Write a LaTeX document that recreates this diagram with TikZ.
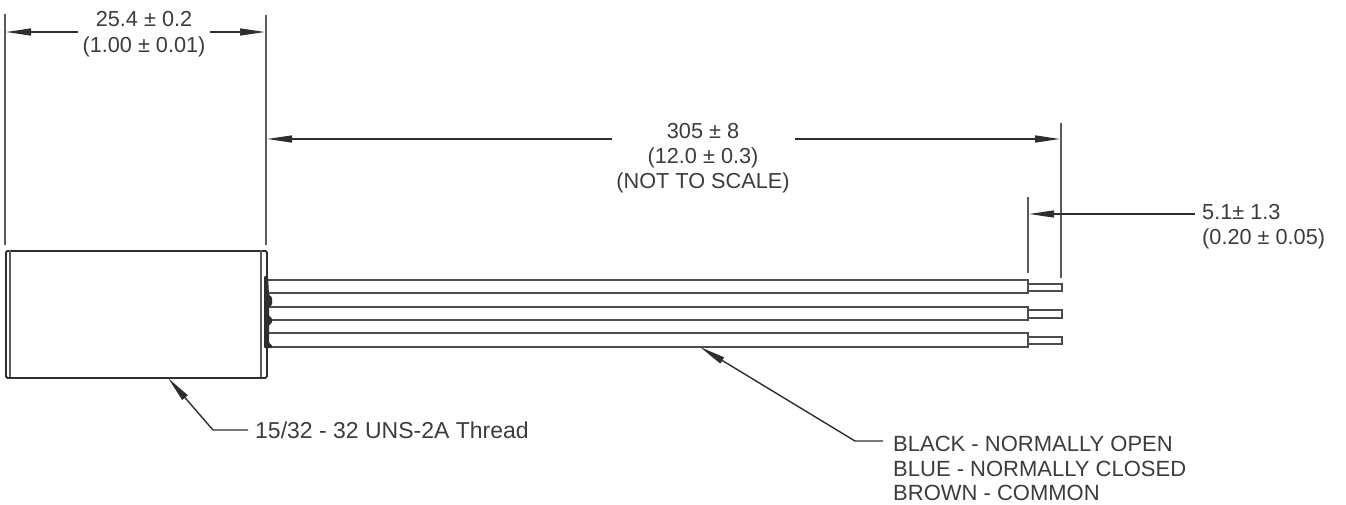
\documentclass[tikz,border=0pt]{standalone}
\usepackage{fontspec}
\setmainfont{Liberation Sans}
\usetikzlibrary{arrows.meta}
\definecolor{ink}{HTML}{2E2E2E}
\definecolor{txt}{HTML}{3C3C3C}
\definecolor{ext}{HTML}{5A5A5A}
\tikzset{
  x=1pt,y=-1pt,
  extline/.style={draw=ext,line width=1.7pt},
  dimline/.style={draw=ink,line width=1.4pt},
  dimtip/.style={-{Stealth[length=25pt,width=7pt,inset=0pt]}},
  leader/.style={draw=ink,line width=1.4pt,{Stealth[length=26pt,width=7pt,inset=0pt]}-},
  wire/.style={draw=ink!85,line width=1.8pt,fill=white},
  dimtext/.style={font=\fontsize{21.7pt}{25pt}\selectfont,text=txt,align=center,inner sep=0pt},
  labeltext/.style={font=\fontsize{22pt}{24.5pt}\selectfont,text=txt,align=left,inner sep=0pt,anchor=west},
}
\begin{document}
\begin{tikzpicture}
\useasboundingbox (0,0) rectangle (1346,504);
% named coordinates
\coordinate (extLa) at (5,14); \coordinate (extLb) at (5,245);
\coordinate (extRa) at (266,15); \coordinate (extRb) at (266,245);
\coordinate (extEa) at (1061,123); \coordinate (extEb) at (1061,278);
\coordinate (extSa) at (1028,197); \coordinate (extSb) at (1028,273);
\draw[extline] (extLa)--(extLb);
\draw[extline] (extRa)--(extRb);
\draw[extline] (extEa)--(extEb);
\draw[extline] (extSa)--(extSb);
% body
\node[draw=ink,line width=1.8pt,minimum width=261pt,minimum height=127pt,inner sep=0pt,anchor=north west,rounded corners=1.5pt] (body) at (5,250) {};
\draw[draw=ext,line width=2pt] (10,250)--(10,377);
\draw[draw=ext,line width=2pt] (261,250)--(261,377);
% wires
\foreach \n/\t/\b/\bt/\bb in {1/280/293/284/291,2/307/320/310/318,3/333/347/337/344}{
  \draw[wire] (1028,\bt) rectangle (1062,\bb);
  \draw[wire] (268,\t) -- (1028,\t) -- (1028,\b) -- (268,\b);
}
% potting at the end of the body
\fill[ink,rounded corners=1pt] (264,276) -- (268,276) -- (269,295) -- (272,297) -- (272,305) -- (269,307) -- (269,316) -- (272,318) -- (272,323) -- (269,325) -- (269,343) -- (272,345) -- (272,348) -- (264,348) -- cycle;
% dimensions
\node[dimtext,font=\fontsize{21.7pt}{26pt}\selectfont] (d1) at (144,34) {25.4 ± 0.2\\(1.00 ± 0.01)};
\node[dimtext] (d2) at (703,158) {305 ± 8\\(12.0 ± 0.3)\\(NOT TO SCALE)};
\node[dimtext,align=left,anchor=west] (d3) at (1202,226.5) {5.1± 1.3\\(0.20 ± 0.05)};
\coordinate (a1) at (6,32); \coordinate (g1a) at (78,32);
\coordinate (g1b) at (210,32); \coordinate (a2) at (265,32);
\coordinate (b1) at (267,139); \coordinate (g2a) at (612,139);
\coordinate (g2b) at (795,139); \coordinate (b2) at (1060,139);
\coordinate (c1) at (1029,214); \coordinate (c2) at (1195,214);
\draw[dimline,dimtip] (g1a)--(a1);
\draw[dimline,dimtip] (g1b)--(a2);
\draw[dimline,dimtip] (g2a)--(b1);
\draw[dimline,dimtip] (g2b)--(b2);
\draw[dimline,dimtip] (c2)--(c1);
% leaders
\node[labeltext,font=\fontsize{23pt}{26pt}\selectfont] (thread) at (255,430) {15/32 - 32 UNS-2A Thread};
\node[labeltext] (colors) at (893,468.5) {BLACK - NORMALLY OPEN\\BLUE - NORMALLY CLOSED\\BROWN - COMMON};
\coordinate (t0) at (168,378); \coordinate (t1) at (213,430); \coordinate (t2) at (248,430);
\coordinate (w0) at (700,347); \coordinate (w1) at (855,441); \coordinate (w2) at (883,441);
\draw[leader] (t0)--(t1)--(t2);
\draw[leader] (w0)--(w1)--(w2);
\end{tikzpicture}
\end{document}
